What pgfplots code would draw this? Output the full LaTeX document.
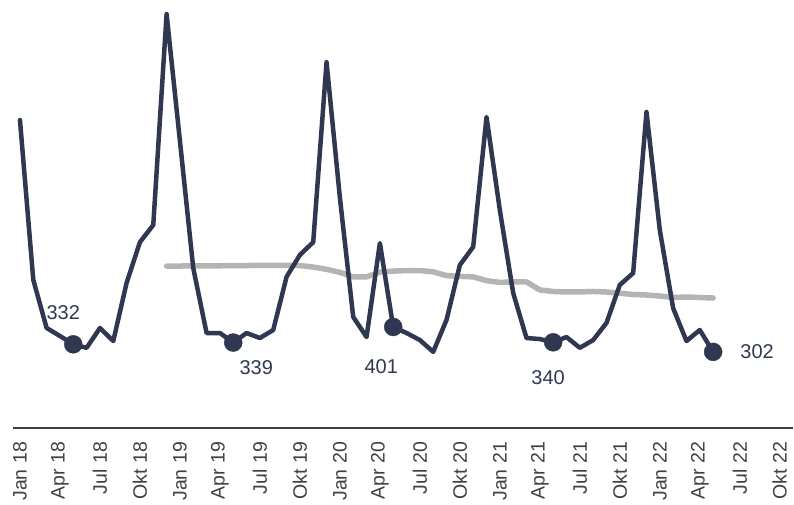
\documentclass[border=0pt]{standalone}
\usepackage{pgfplots}
\pgfplotsset{compat=1.18}
\usepackage{fontspec}
\setmainfont{Liberation Sans}
\definecolor{navy}{HTML}{2F3850}
\definecolor{avg}{HTML}{B4B4B4}
\definecolor{axgray}{HTML}{404040}
\pgfplotstableread{
i v
0 1223
1 588
2 397
3 365
4 332
5 318
6 397
7 345
8 576
9 738
10 806
11 1644
12 1140
13 635
14 377
15 377
16 339
17 377
18 357
19 389
20 600
21 687
22 738
23 1453
24 915
25 441
26 361
27 734
28 401
29 377
30 349
31 302
32 429
33 647
34 719
35 1235
36 865
37 536
38 357
39 353
40 340
41 361
42 318
43 349
44 417
45 568
46 615
47 1255
48 786
49 476
50 345
51 389
52 302
}\monthly
\pgfplotstableread{
i v
11 643
12 643
13 644
14 644
15 644
16 645
17 645
18 646
19 646
20 646
21 645
22 639
23 630
24 618
25 600
26 600
27 619
28 623
29 625
30 625
31 620
32 605
33 602
34 600
35 585
36 578
37 580
38 580
39 548
40 542
41 540
42 540
43 542
44 540
45 535
46 530
47 528
48 524
49 518
50 520
51 518
52 516
}\avgtab
\pgfplotstableread{
i v
4 332
16 339
28 401
40 340
52 302
}\marked
\begin{document}
\begin{tikzpicture}
\begin{axis}[
  scale only axis,
  width=780bp, height=428bp,
  xmin=-0.5, xmax=58, ymin=0, ymax=1700,
  axis x line=bottom, axis y line=none,
  axis line style={axgray, line width=1.8bp, -},
  xtick={0,3,...,57},
  xticklabels={Jan 18,Apr 18,Jul 18,Okt 18,Jan 19,Apr 19,Jul 19,Okt 19,Jan 20,Apr 20,Jul 20,Okt 20,Jan 21,Apr 21,Jul 21,Okt 21,Jan 22,Apr 22,Jul 22,Okt 22},
  major tick length=0pt,
  xticklabel style={rotate=90, anchor=east, font=\fontsize{19.5bp}{20bp}\selectfont, text=axgray, inner sep=0pt, xshift=-14bp},
  clip=false,
]
\addplot[avg, line width=5.5bp, line cap=round, line join=round] table[x=i,y=v] {\avgtab};
\addplot[navy, line width=4.5bp, line cap=round, line join=round] table[x=i,y=v] {\monthly};
\addplot[only marks, mark=*, mark size=9bp, navy, mark options={draw=navy, fill=navy}] table[x=i,y=v] {\marked};
\begin{scope}[every node/.style={text=navy, font=\fontsize{20bp}{22bp}\selectfont, inner sep=0pt}]
\node at (axis cs:4,332) [xshift=-10bp, yshift=32bp] {332};
\node at (axis cs:16,339) [xshift=23bp, yshift=-25bp] {339};
\node at (axis cs:28,401) [xshift=-12bp, yshift=-40bp] {401};
\node at (axis cs:40,340) [xshift=-5bp, yshift=-35bp] {340};
\node at (axis cs:52,302) [xshift=44bp] {302};
\end{scope}
\end{axis}
\path (-13.3bp,-77bp) rectangle (780.7bp,428bp);
\end{tikzpicture}
\end{document}
